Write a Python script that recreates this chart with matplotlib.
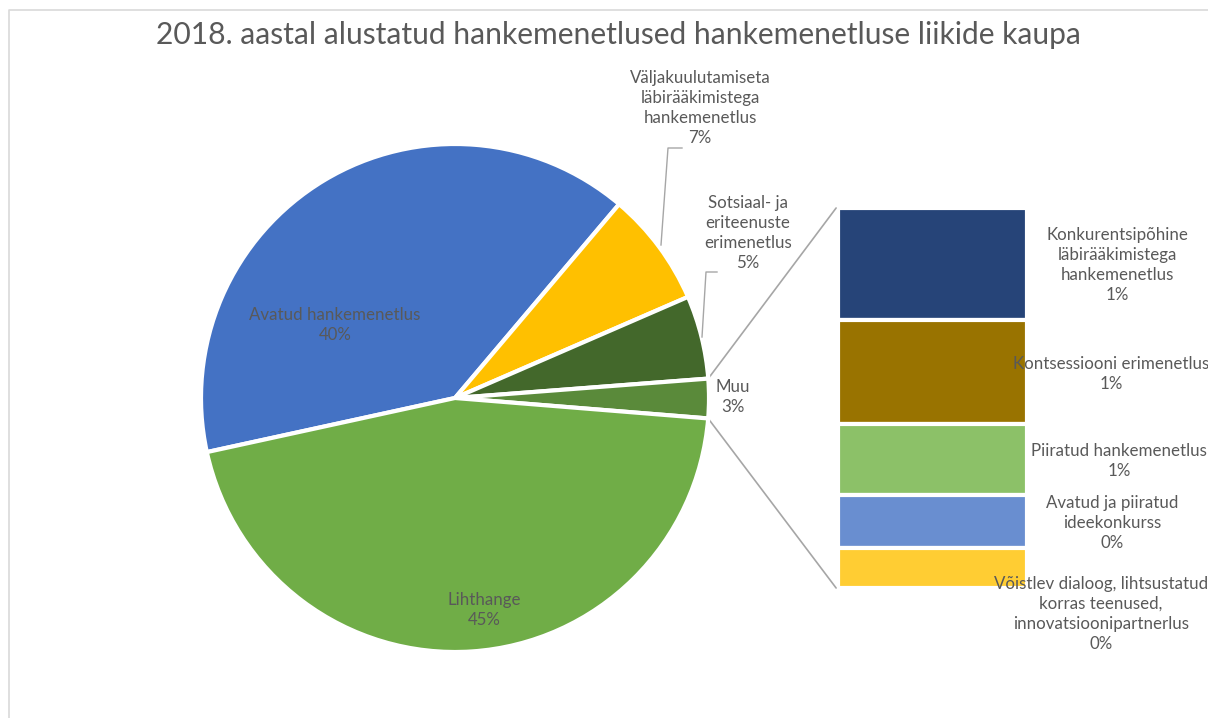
import matplotlib.pyplot as plt
from matplotlib.patches import ConnectionPatch
import numpy as np

# main pie (percent of procedures)
pie_labels = ["Avatud hankemenetlus", "Väljakuulutamiseta\nläbirääkimistega\nhankemenetlus",
              "Sotsiaal- ja\neriteenuste\nerimenetlus", "Muu", "Lihthange"]
pie_values = [39.6, 7.3, 5.3, 2.5, 45.3]
pie_pct = ["40%", "7%", "5%", "3%", "45%"]
pie_colors = ["#4472C4", "#FFC000", "#43682B", "#5A8A3A", "#70AD47"]

# "Muu" broken down
bar_labels = ["Konkurentsipõhine\nläbirääkimistega\nhankemenetlus", "Kontsessiooni erimenetlus",
              "Piiratud hankemenetlus", "Avatud ja piiratud\nideekonkurss",
              "Võistlev dialoog, lihtsustatud\nkorras teenused,\ninnovatsioonipartnerlus"]
bar_values = [0.74, 0.68, 0.47, 0.35, 0.26]
bar_pct = ["1%", "1%", "1%", "0%", "0%"]
bar_colors = ["#264478", "#997300", "#8CC168", "#698ED0", "#FFCD33"]

W, H = 1208, 718
txt = "#595959"
plt.rcParams['font.family'] = ['Lato', 'DejaVu Sans']

fig = plt.figure(figsize=(W / 100, H / 100), dpi=100)
ax = fig.add_axes([0, 0, 1, 1])

def Y(y):
    return H - y

# chart frame
ax.plot([9, 9, W + 5], [-5, Y(10), Y(10)], color="#D9D9D9", lw=1.2)

wedges, _ = ax.pie(pie_values, colors=pie_colors, startangle=192.3, counterclock=False,
                   center=(455, Y(398)), radius=254,
                   wedgeprops=dict(edgecolor='white', linewidth=3))
ax.set_xlim(0, W)
ax.set_ylim(0, H)
ax.set_aspect('equal')
ax.axis('off')

fig.text(618 / W, 1 - 35 / H, "2018. aastal alustatud hankemenetlused hankemenetluse liikide kaupa",
         ha='center', va='center', fontsize=21.6, color=txt)

fs = 12.2
pie_pos = [(335, 325), (700, 108), (748, 233), (733, 397), (484, 610)]
for lab, pct, (x, y) in zip(pie_labels, pie_pct, pie_pos):
    ax.text(x, Y(y), lab + "\n" + pct, ha='center', va='center', fontsize=fs, color=txt,
            linespacing=1.3)

# leader lines
ax.plot([661, 668, 682], [Y(245), Y(148), Y(148)], color="#A6A6A6", lw=1)
ax.plot([702, 706, 717], [Y(337), Y(272), Y(272)], color="#A6A6A6", lw=1)

# stacked bar
bx = fig.add_axes([838 / W, (H - 588) / H, 189 / W, 380 / H])
bottoms = np.concatenate([[0], np.cumsum(bar_values)[:-1]])
bx.bar([0] * len(bar_values), bar_values, bottom=bottoms, width=1, color=bar_colors,
       edgecolor='white', linewidth=3)
bx.set_xlim(-0.5, 0.5)
bx.set_ylim(sum(bar_values), 0)
bx.axis('off')
bx.set_zorder(0)
ax.set_zorder(1)

bar_pos = [(1117, 265), (1111, 374), (1119, 461), (1112, 523), (1101, 614)]
for lab, pct, (x, y) in zip(bar_labels, bar_pct, bar_pos):
    ax.text(x, Y(y), lab + "\n" + pct, ha='center', va='center', fontsize=fs, color=txt,
            linespacing=1.3, zorder=5)

# connectors from Muu wedge to the bar
muu = wedges[3]
cx, cy = muu.center
r = muu.r
for ang, yb in [(muu.theta2, 1), (muu.theta1, 0)]:
    t = np.deg2rad(ang)
    p = (cx + r * np.cos(t), cy + r * np.sin(t))
    con = ConnectionPatch(xyA=p, coordsA=ax.transData, xyB=(-0.01, yb), coordsB=bx.transAxes,
                          color="#A6A6A6", lw=1.2)
    fig.add_artist(con)

plt.savefig("out.png", dpi=100)
